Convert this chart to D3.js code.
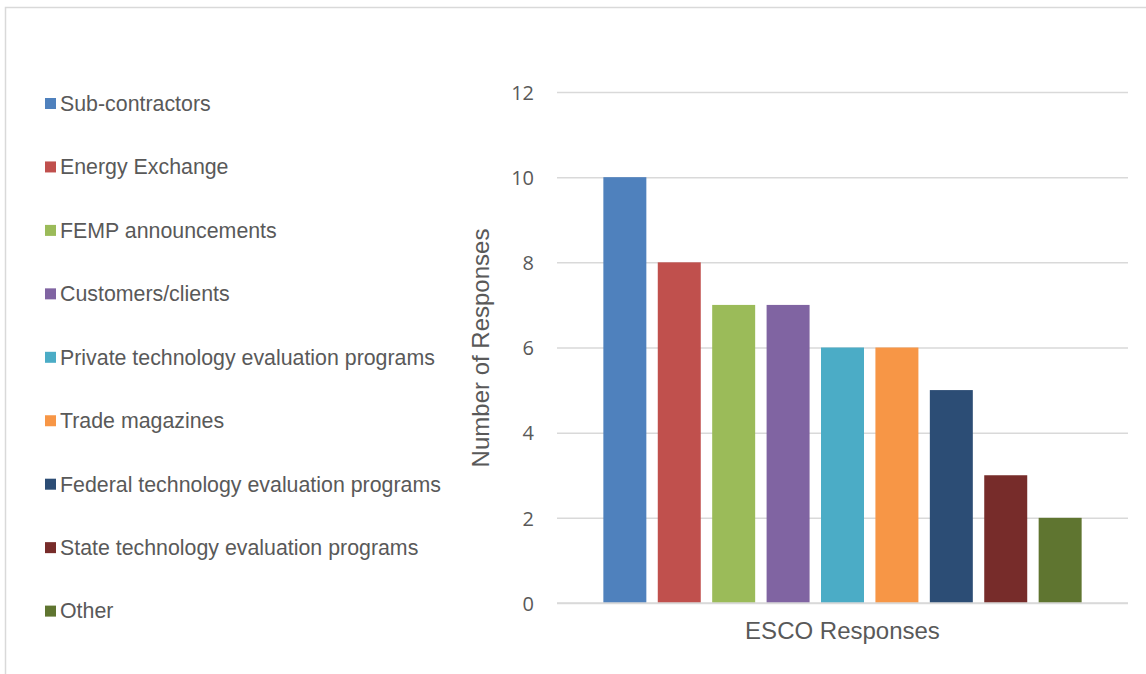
<!DOCTYPE html>
<html>
<head>
<meta charset="utf-8">
<script src="https://cdn.jsdelivr.net/npm/d3@7"></script>
<style>
  html, body { margin: 0; padding: 0; background: #fff; }
  svg { display: block; }
</style>
</head>
<body>
<div id="chart"></div>
<script>
// Survey answers: where ESCOs hear about new technologies
const category = ["ESCO Responses"];
const sources = [
  "Sub-contractors",
  "Energy Exchange",
  "FEMP announcements",
  "Customers/clients",
  "Private technology evaluation programs",
  "Trade magazines",
  "Federal technology evaluation programs",
  "State technology evaluation programs",
  "Other"
];
const responses = [10, 8, 7, 7, 6, 6, 5, 3, 2];
const colors = ["#4F81BD", "#C0504D", "#9BBB59", "#8064A2", "#4BACC6",
                "#F79646", "#2C4D75", "#772C2A", "#5F7530"];
const yTicks = [0, 2, 4, 6, 8, 10, 12];

const W = 1146, H = 674;
const textColor = "#595959";
const gridColor = "#D9D9D9";

const svg = d3.select("#chart").append("svg")
  .attr("width", W).attr("height", H);

// chart area frame
svg.append("rect")
  .attr("x", 5.5).attr("y", 7.5)
  .attr("width", W + 20).attr("height", H + 20)
  .attr("fill", "#fff")
  .attr("stroke", gridColor).attr("stroke-width", 1.5);

const plot = { left: 557, right: 1128, top: 92, bottom: 603 };

const y = d3.scaleLinear().domain([0, 12]).range([plot.bottom, plot.top]);

const x0 = d3.scaleBand().domain(category)
  .range([plot.left, plot.right])
  .paddingInner(0).paddingOuter(0.083);

const x1 = d3.scaleBand().domain(sources)
  .range([0, x0.bandwidth()])
  .paddingInner(0.21).paddingOuter(0.105);

// horizontal gridlines
const yAxis = d3.axisLeft(y).tickValues(yTicks)
  .tickSize(-(plot.right - plot.left)).tickPadding(23);

const gy = svg.append("g")
  .attr("transform", `translate(${plot.left},0)`)
  .call(yAxis);
gy.select(".domain").remove();
gy.selectAll(".tick line")
  .attr("stroke", gridColor).attr("stroke-width", 1.5);
gy.selectAll(".tick text")
  .attr("fill", textColor)
  .style("font-family", "'Open Sans', sans-serif")
  .style("font-size", "20px")
  .attr("dy", "0.36em");

// bars
const group = svg.append("g")
  .attr("transform", `translate(${x0(category[0])},0)`);

group.selectAll("rect")
  .data(sources.map((s, i) => ({ s, v: responses[i], c: colors[i] })))
  .join("rect")
  .attr("x", d => x1(d.s))
  .attr("width", x1.bandwidth())
  .attr("y", d => y(d.v))
  .attr("height", d => y(0) - y(d.v))
  .attr("fill", d => d.c);

// category axis line
svg.append("line")
  .attr("x1", plot.left).attr("x2", plot.right)
  .attr("y1", y(0)).attr("y2", y(0))
  .attr("stroke", gridColor).attr("stroke-width", 1.5);

// axis titles
svg.append("text")
  .attr("x", x0(category[0]) + x0.bandwidth() / 2)
  .attr("y", 639)
  .attr("text-anchor", "middle")
  .attr("fill", textColor)
  .style("font-family", "'Liberation Sans', Arial, sans-serif")
  .style("font-size", "24px")
  .text(category[0]);

svg.append("text")
  .attr("transform", `translate(489,${(plot.top + plot.bottom) / 2 + 0.5}) rotate(-90)`)
  .attr("text-anchor", "middle")
  .attr("fill", textColor)
  .style("font-family", "'Liberation Sans', Arial, sans-serif")
  .style("font-size", "24px")
  .text("Number of Responses");

// legend
const legendTop = 103.5, legendStep = 63.45;
const legend = svg.append("g");
const items = legend.selectAll("g")
  .data(sources)
  .join("g")
  .attr("transform", (d, i) => `translate(45,${legendTop + i * legendStep})`);

items.append("rect")
  .attr("x", 0).attr("y", -5.5)
  .attr("width", 11).attr("height", 11)
  .attr("fill", (d, i) => colors[i]);

items.append("text")
  .attr("x", 15).attr("y", 7.3)
  .attr("fill", textColor)
  .style("font-family", "'Liberation Sans', Arial, sans-serif")
  .style("font-size", "21.35px")
  .text(d => d);
</script>
</body>
</html>
